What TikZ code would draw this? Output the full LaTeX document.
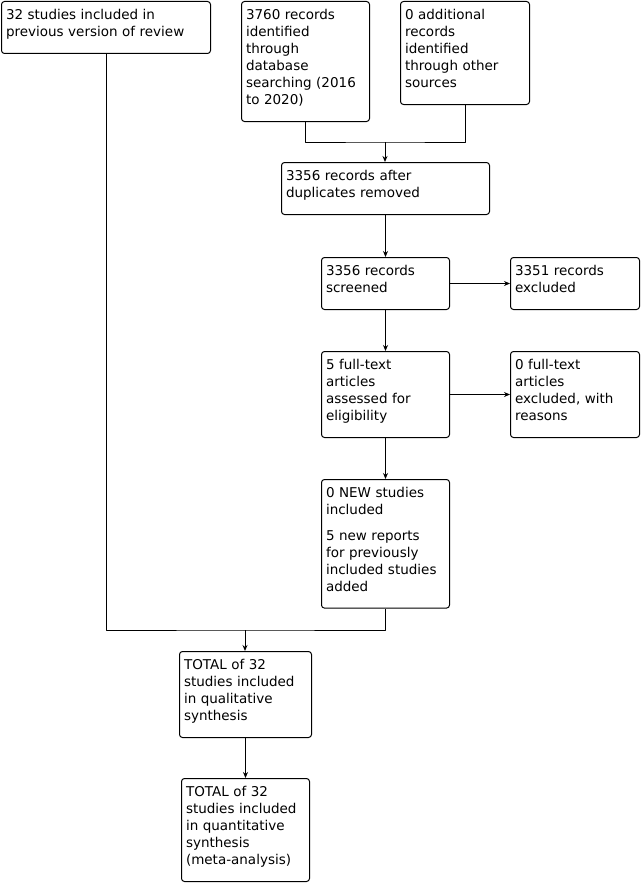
\documentclass[tikz,border=0pt]{standalone}
\usepackage{fontspec}
\setmainfont{DejaVu Sans}
\usetikzlibrary{arrows.meta}
\begin{document}
\begin{tikzpicture}[x=1pt,y=-1pt,>={Stealth[length=6pt,width=5pt]},line width=1pt,line join=round,every node/.style={font=\fontsize{13.5}{17}\selectfont},box/.style={draw,rounded corners=3pt,anchor=north west,align=left,inner xsep=4.5pt,inner ysep=0pt,text height=18pt,execute at end node={\rule[-17pt]{0pt}{17pt}}}]
	\useasboundingbox (0,0) rectangle (642,883);
	% identification
	\node[box,text width=200pt] (prev) at (1,1) {32 studies included in\\previous version of review};
	\node[box,text width=119pt] (dbsearch) at (241,1) {3760 records\\identified\\through\\database\\searching (2016\\to 2020)};
	\node[box,text width=120pt] (other) at (400,1) {0 additional\\records\\identified\\through other\\sources};
	\node[box,text width=199pt] (dedup) at (281,162) {3356 records after\\duplicates removed};
	% screening
	\node[box,text width=119pt] (screen) at (321,257) {3356 records\\screened};
	\node[box,text width=120pt] (screenout) at (510,257) {3351 records\\excluded};
	\node[box,text width=119pt] (fulltext) at (321,351) {5 full-text\\articles\\assessed for\\eligibility};
	\node[box,text width=120pt] (fullout) at (510,351) {0 full-text\\articles\\excluded, with\\reasons};
	% included
	\node[box,text width=119pt] (newinc) at (321,479) {0 NEW studies\\included\\[8.6pt]5 new reports\\for previously\\included studies\\added};
	\node[box,text width=123pt] (qual) at (179,651) {TOTAL of 32\\studies included\\in qualitative\\synthesis};
	\node[box,text width=119pt] (quant) at (181,778) {TOTAL of 32\\studies included\\in quantitative\\synthesis\\(meta-analysis)};
	\coordinate (merge) at (385,142);
	\coordinate (join) at (245,630);
	\draw (dbsearch.south) |- (merge) -| (other.south);
	\draw[->] (merge) -- (merge |- dedup.north);
	\draw[->] (dedup.south) -- (dedup.south |- screen.north);
	\draw[->] (screen.east) -- (screen.east -| screenout.west);
	\draw[->] (screen.south) -- (screen.south |- fulltext.north);
	\draw[->] (fulltext.east) -- (fulltext.east -| fullout.west);
	\draw[->] (fulltext.south) -- (fulltext.south |- newinc.north);
	\draw (prev.south) |- (join) -| (newinc.south);
	\draw[->] (join) -- (join |- qual.north);
	\draw[->] (qual.south) -- (qual.south |- quant.north);
\end{tikzpicture}
\end{document}
